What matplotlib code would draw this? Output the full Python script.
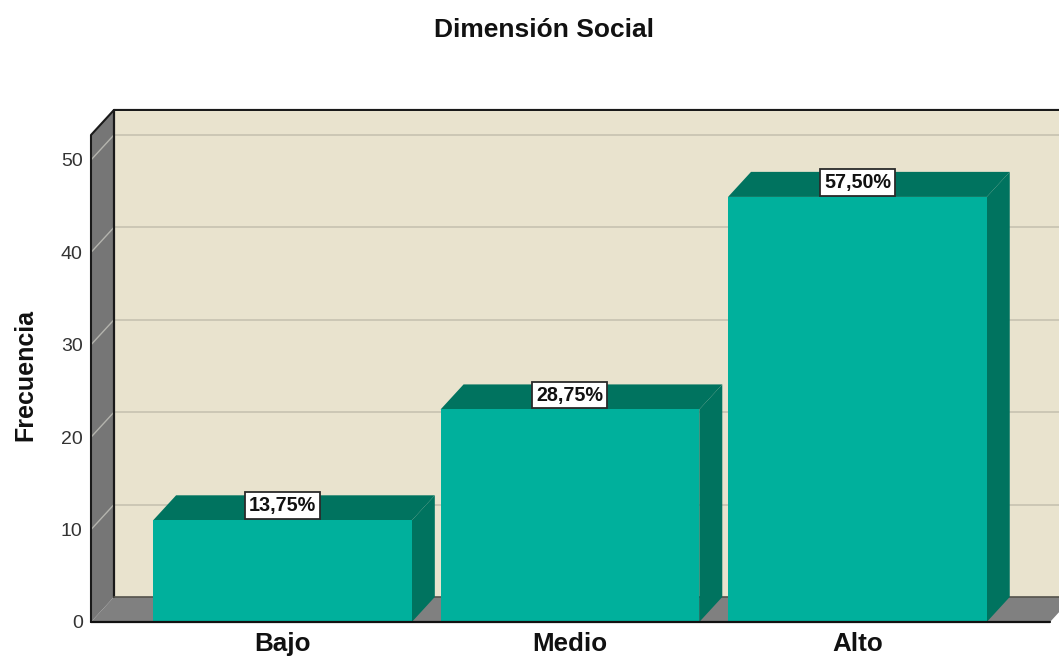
import matplotlib

matplotlib.use("Agg")
import matplotlib.pyplot as plt
from matplotlib.patches import Polygon

categories = ["Bajo", "Medio", "Alto"]
counts = [11, 23, 46]
percent_labels = ["13,75%", "28,75%", "57,50%"]
y_ticks = [0, 10, 20, 30, 40, 50]

WIDTH, HEIGHT = 1059, 656
FONT = "Liberation Sans"
BAR_WIDTH = 0.9
DEPTH_X = 0.08  # oblique depth in x units
DEPTH_Y = 2.71  # oblique depth in y units
X_MIN, X_MAX = -0.666, 2.67
Y_MAX = 52.7

WALL = "#E9E3CE"
GRID = "#C9C4B3"
SIDE_GREY = "#767676"
FLOOR_GREY = "#808080"
SIDE_GRID = "#B4B4AE"
BAR_FRONT = "#00B09C"
BAR_DARK = "#00735F"
EDGE = "#1A1A1A"

plt.rcParams["font.family"] = [FONT, "DejaVu Sans"]

fig = plt.figure(figsize=(WIDTH / 100, HEIGHT / 100), dpi=100)
ax = fig.add_axes(
    [91 / WIDTH, 1 - 622 / HEIGHT, (1050 - 91) / WIDTH, (622 - 135) / HEIGHT]
)
ax.set_xlim(X_MIN, X_MAX)
ax.set_ylim(0, Y_MAX)


def add_poly(points, color, zorder):
    ax.add_patch(
        Polygon(points, closed=True, facecolor=color, edgecolor="none",
                zorder=zorder, clip_on=False)
    )


def add_line(xs, ys, color, width, zorder):
    ax.plot(xs, ys, color=color, linewidth=width, zorder=zorder,
            clip_on=False, solid_capstyle="round")


back_left = X_MIN + DEPTH_X
back_right = X_MAX + DEPTH_X
back_top = Y_MAX + DEPTH_Y

# back wall, floor and left wall
add_poly([(back_left, DEPTH_Y), (back_right, DEPTH_Y), (back_right, back_top),
          (back_left, back_top)], WALL, 1)
add_poly([(X_MIN, 0), (X_MAX, 0), (back_right, DEPTH_Y), (back_left, DEPTH_Y)],
         FLOOR_GREY, 1)
add_poly([(X_MIN, 0), (back_left, DEPTH_Y), (back_left, back_top), (X_MIN, Y_MAX)],
         SIDE_GREY, 1)

for tick in y_ticks[1:]:
    add_line([back_left, back_right], [tick + DEPTH_Y] * 2, GRID, 1.3, 2)
    add_line([X_MIN, back_left], [tick, tick + DEPTH_Y], SIDE_GRID, 1.0, 2)

add_line([X_MIN, X_MIN, back_left, back_right],
         [0, Y_MAX, back_top, back_top], EDGE, 1.5, 3)
add_line([back_left, back_left], [DEPTH_Y, back_top], EDGE, 1.6, 3)
add_line([back_left, back_right], [DEPTH_Y, DEPTH_Y], "#55534C", 1.2, 3)

# bars: top and side faces first, then the front
positions = list(range(len(categories)))
for pos, count in zip(positions, counts):
    left = pos - BAR_WIDTH / 2
    right = pos + BAR_WIDTH / 2
    add_poly([(left, count), (right, count), (right + DEPTH_X, count + DEPTH_Y),
              (left + DEPTH_X, count + DEPTH_Y)], BAR_DARK, 4)
    add_poly([(right, 0), (right + DEPTH_X, DEPTH_Y),
              (right + DEPTH_X, count + DEPTH_Y), (right, count)], BAR_DARK, 4)
ax.bar(positions, counts, width=BAR_WIDTH, color=BAR_FRONT, zorder=5)
add_line([X_MIN, X_MAX], [0, 0], "#111111", 1.6, 6)

for pos, count, label in zip(positions, counts, percent_labels):
    ax.annotate(
        label, (pos, count), xytext=(0, 10.4), textcoords="offset points",
        ha="center", va="center", fontsize=14.2, fontweight="bold", color="#111111",
        bbox=dict(boxstyle="square,pad=0.2", facecolor="white",
                  edgecolor="#2A2A2A", linewidth=1.3),
        zorder=7,
    )

for spine in ax.spines.values():
    spine.set_visible(False)
ax.set_xticks(positions, categories, fontsize=18.7, fontweight="bold", color="#111111")
ax.set_yticks(y_ticks, [str(t) for t in y_ticks], fontsize=14, color="#333333")
ax.tick_params(axis="both", length=0)
ax.tick_params(axis="x", pad=7)
ax.tick_params(axis="y", pad=6)

fig.text(25 / WIDTH, 1 - 375 / HEIGHT, "Frecuencia", rotation=90, ha="center",
         va="center", fontsize=18, fontweight="bold", color="#111111")
fig.text(544 / WIDTH, 1 - 30 / HEIGHT, "Dimensión Social", ha="center",
         va="center", fontsize=19, fontweight="bold", color="#111111")

fig.savefig("out.png", dpi=100)
